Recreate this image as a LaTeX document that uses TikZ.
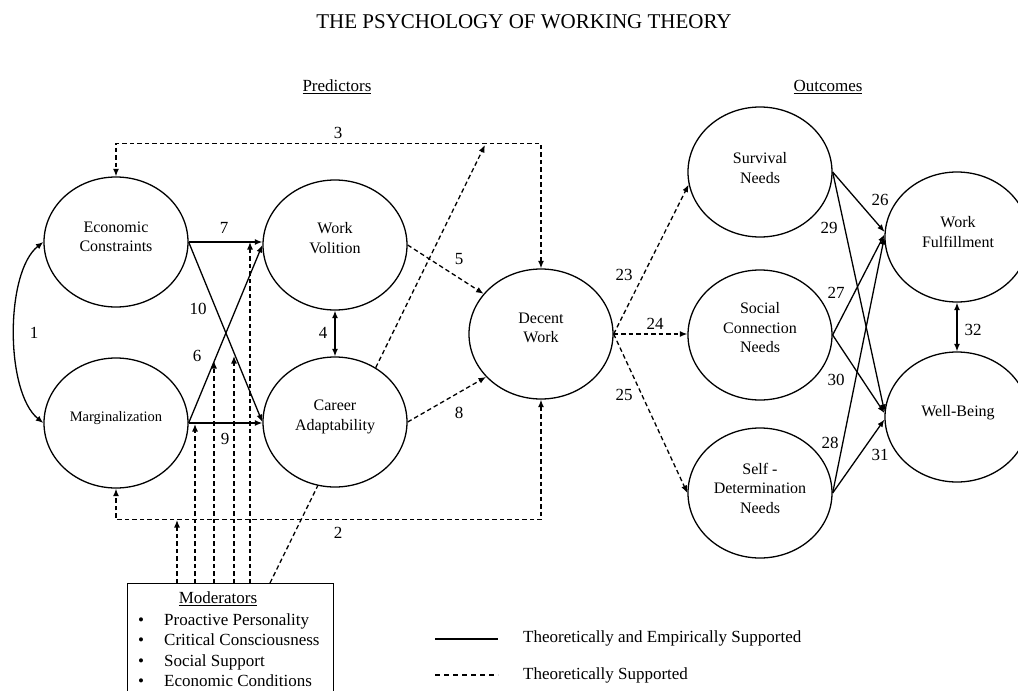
\documentclass[tikz,border=0pt]{standalone}
\usepackage{fontspec}
\setmainfont{Liberation Serif}
\usetikzlibrary{shapes.geometric,arrows.meta}
\begin{document}
\begin{tikzpicture}[x=1pt,y=-1pt,
  circ/.style={ellipse,draw,line width=1.3pt,fill=white,inner sep=0pt,minimum width=144pt,minimum height=130pt},
  txt/.style={align=center,inner sep=0pt,font=\fontsize{16}{19.5}\selectfont},
  lab/.style={inner sep=0pt,font=\fontsize{17}{20}\selectfont},
  tip/.tip={Latex[length=7.5pt,width=6pt]},
  sol/.style={line width=1.3pt,-tip},
  dsh/.style={line width=1.3pt,dash pattern=on 4.5pt off 3pt,-tip},
]
\useasboundingbox (0,0) rectangle (1018,691);
\clip (0,0) rectangle (1018,691);

% headings
\node[inner sep=0pt,font=\fontsize{21}{24}\selectfont] (title) at (524,22) {THE PSYCHOLOGY OF WORKING THEORY};
\node[lab] (pred) at (337,87) {\underline{Predictors}};
\node[lab] (outc) at (828,87) {\underline{Outcomes}};

% moderators box
\node[draw,line width=1.3pt,minimum width=206pt,minimum height=120pt,anchor=north west,inner sep=0pt] (mod) at (127,583) {};
\node[lab] (modt) at (218,599) {\underline{Moderators}};
\foreach \yy/\tt [count=\i] in {625/Proactive Personality,645/Critical Consciousness,666/Social Support,686/Economic Conditions}{
  \node[lab,anchor=base] (b\i) at (141,\yy) {\textbullet};
  \node[lab,anchor=base west] (mi\i) at (164,\yy) {\tt};
}

% coordinates of moderator lines
\coordinate (m1) at (177,583);
\coordinate (m2) at (195,583);
\coordinate (m3) at (214,583);
\coordinate (m4) at (234,583);
\coordinate (m5) at (250,583);
\coordinate (m6) at (270,583);
\coordinate (t1) at (177,520);
\coordinate (t2) at (195,424);
\coordinate (t3) at (214,361);
\coordinate (t4) at (234,356);
\coordinate (t5) at (250,242);
\coordinate (t6) at (485,145);

\draw[dsh] (m6) -- (t6);

% nodes
\node[circ] (ec) at (116,242) {};
\node[txt] (ect) at (116,237) {Economic\\Constraints};
\node[circ] (wv) at (335,245) {};
\node[txt] (wvt) at (335,238) {Work\\Volition};
\node[circ] (mg) at (116,423) {};
\node[txt,font=\fontsize{14.5}{16}\selectfont] (mgt) at (116,418) {Marginalization};
\node[circ] (ca) at (335,422) {};
\node[txt] (cat) at (335,417) {Career\\Adaptability};
\node[circ] (dw) at (541,334) {};
\node[txt] (dwt) at (541,328) {Decent\\Work};
\node[circ] (sn) at (760,172) {};
\node[txt] (snt) at (760,168) {Survival\\Needs};
\node[circ] (sc) at (760,335) {};
\node[txt] (sct) at (760,328) {Social\\Connection\\Needs};
\node[circ] (sd) at (760,493) {};
\node[txt] (sdt) at (760,488) {Self -\\Determination\\Needs};
\node[circ] (wf) at (957,237) {};
\node[txt] (wft) at (958,232) {Work\\Fulfillment};
\node[circ] (wb) at (957,417) {};
\node[txt] (wbt) at (958,413) {Well-Being};

% moderator vertical lines
\draw[dsh] (m1) -- (t1);
\draw[dsh] (m2) -- (t2);
\draw[dsh] (m3) -- (t3);
\draw[dsh] (m4) -- (t4);
\draw[dsh] (m5) -- (t5);

% predictor paths
\draw[line width=1.3pt,tip-tip] (ec.west) .. controls (5,272) and (5,392) .. (mg.west);
\draw[dsh,tip-tip] (dw.north) -- ++(0,-125) -| (ec.north);
\draw[dsh,tip-tip] (dw.south) -- ++(0,120) -| (mg.south);
\draw[sol] (ec.east) -- (ec.east -| wv.west);
\draw[sol] (ec.east) -- (ca.west);
\draw[sol] (mg.east) -- (wv.west);
\draw[sol] (mg.east) -- (mg.east -| ca.west);
\draw[line width=1.3pt,tip-tip] (wv.south) -- (ca.north);
\draw[dsh] (wv.east) -- (dw.145);
\draw[dsh] (ca.east) -- (dw.218);

% outcome paths
\draw[dsh] (dw.east) -- (sn.190);
\draw[dsh] (dw.east) -- (dw.east -| sc.west);
\draw[dsh] (dw.east) -- (sd.west);
\draw[sol] (sn.east) -- (wf.176);
\draw[sol] (sn.east) -- (wb.176);
\draw[sol] (sc.east) -- (wf.178);
\draw[sol] (sc.east) -- (wb.177);
\draw[sol] (sd.east) -- (wf.180);
\draw[sol] (sd.east) -- (wb.182);
\draw[line width=1.3pt,tip-tip] (wf.south) -- (wb.north);

% path labels
\node[lab] (l1) at (34,333) {1};
\node[lab] (l2) at (338,533) {2};
\node[lab] (l3) at (338,133) {3};
\node[lab] (l4) at (323,333) {4};
\node[lab] (l5) at (459,259) {5};
\node[lab] (l6) at (197,356) {6};
\node[lab] (l7) at (224,228) {7};
\node[lab] (l8) at (459,413) {8};
\node[lab] (l9) at (225,439) {9};
\node[lab] (l10) at (198,309) {10};
\node[lab] (l23) at (624,275) {23};
\node[lab] (l24) at (655,324) {24};
\node[lab] (l25) at (624,395) {25};
\node[lab] (l26) at (880,200) {26};
\node[lab] (l27) at (836,293) {27};
\node[lab] (l28) at (830,443) {28};
\node[lab] (l29) at (829,228) {29};
\node[lab] (l30) at (836,380) {30};
\node[lab] (l31) at (880,455) {31};
\node[lab] (l32) at (973,330) {32};

% legend
\coordinate (s1) at (435,639);
\coordinate (s2) at (498,639);
\coordinate (d1) at (435,675);
\coordinate (d2) at (498,675);
\draw[line width=1.3pt] (s1) -- (s2);
\draw[line width=1.3pt,dash pattern=on 5pt off 4pt] (d1) -- (d2);
\node[lab,anchor=west] (leg1) at (523,638) {Theoretically and Empirically Supported};
\node[lab,anchor=west] (leg2) at (523,675) {Theoretically Supported};
\end{tikzpicture}
\end{document}
